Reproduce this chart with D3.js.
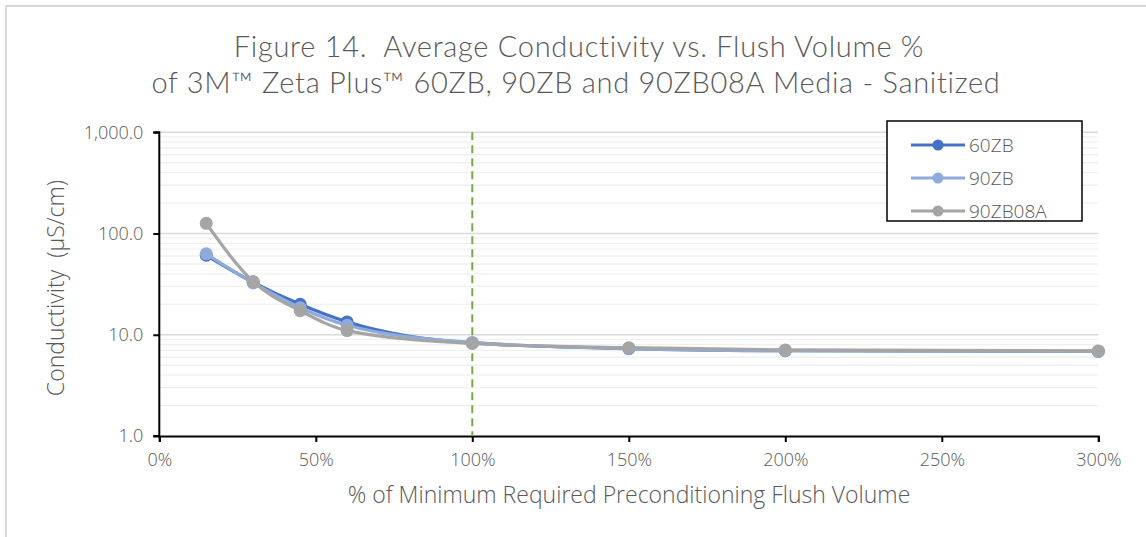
<!DOCTYPE html>
<html><head><meta charset="utf-8">
<script src="https://cdn.jsdelivr.net/npm/d3@7"></script>
<style>body{margin:0;background:#fff;} svg{display:block;} text{font-family:"Open Sans",Lato,sans-serif;font-weight:300;fill:#595959;white-space:pre;}
.ttl{font-family:Lato,"Open Sans",sans-serif;font-weight:300;letter-spacing:0.7px;}</style>
</head><body>
<svg id="c" width="1146" height="537"></svg>
<script>
const xValues = [15, 30, 45, 60, 100, 150, 200, 300];
const series60ZB = [61, 33, 20.0, 13.4, 8.3, 7.3, 6.95, 6.85];
const series90ZB = [63, 32.5, 18.5, 12.4, 8.4, 7.3, 6.95, 6.85];
const series90ZB08A = [126, 33.5, 17.3, 11.0, 8.2, 7.45, 7.08, 6.92];
const seriesNames = ["60ZB", "90ZB", "90ZB08A"];
const seriesColors = ["#4472C4", "#8FAADC", "#A5A5A5"];
const yTicks = [1, 10, 100, 1000];
const xTicks = [0, 50, 100, 150, 200, 250, 300];
const refLine = 100;

const svg = d3.select("#c");
const L = 159.3, R = 1098.3, T = 132.3, B = 436;
const x = d3.scaleLinear().domain([0, 300]).range([L, R]);
const y = d3.scaleLog().domain([1, 1000]).range([B, T]);

svg.append("path").attr("d", "M6,537 L6,6 L1146,6").attr("fill", "none").attr("stroke", "#D9D9D9").attr("stroke-width", 2);

const minor = [];
for (let d = 1; d < 1000; d *= 10) for (let k = 2; k <= 9; k++) minor.push(d * k);
svg.append("g").selectAll("line").data(minor).join("line")
  .attr("x1", L).attr("x2", R).attr("y1", d => y(d)).attr("y2", d => y(d))
  .attr("stroke", "#F0F0F0").attr("stroke-width", 1.3);
svg.append("g").selectAll("line").data(yTicks.slice(1)).join("line")
  .attr("x1", L).attr("x2", R).attr("y1", d => y(d)).attr("y2", d => y(d))
  .attr("stroke", "#D9D9D9").attr("stroke-width", 1.5);

const fmt = d3.format(",.1f");
const yAxis = svg.append("g").attr("transform", `translate(${L},0)`)
  .call(d3.axisLeft(y).tickValues(yTicks).tickFormat(d => fmt(d)).tickSize(6).tickPadding(10));
const xAxis = svg.append("g").attr("transform", `translate(0,${B})`)
  .call(d3.axisBottom(x).tickValues(xTicks).tickFormat(d => d + "%").tickSize(6).tickPadding(11));
[yAxis, xAxis].forEach(g => {
  g.select(".domain").attr("stroke", "#000").attr("stroke-width", 2);
  g.selectAll(".tick line").attr("stroke", "#000").attr("stroke-width", 2);
  g.selectAll(".tick text").style("font-size", "18px").style("font-family", '"Open Sans",Lato,sans-serif').style("font-weight", 300).attr("fill", "#595959");
});
yAxis.select(".domain").attr("d", `M-6,${T}H0V${B}H-6`);

svg.append("line").attr("x1", x(refLine)).attr("x2", x(refLine)).attr("y1", T).attr("y2", B)
  .attr("stroke", "#70AD47").attr("stroke-width", 2).attr("stroke-dasharray", "8,5");

const allSeries = [series60ZB, series90ZB, series90ZB08A];
const line = d3.line().x((d, i) => x(xValues[i])).y(d => y(d)).curve(d3.curveMonotoneX);
allSeries.forEach((s, si) => {
  const g = svg.append("g");
  g.append("path").datum(s).attr("d", line).attr("fill", "none")
    .attr("stroke", seriesColors[si]).attr("stroke-width", 3.2).attr("stroke-linejoin", "round");
  g.selectAll("circle").data(s).join("circle")
    .attr("cx", (d, i) => x(xValues[i])).attr("cy", d => y(d)).attr("r", 6.5)
    .attr("fill", seriesColors[si]);
});

const lg = svg.append("g");
lg.append("rect").attr("x", 887).attr("y", 121).attr("width", 195).attr("height", 100)
  .attr("fill", "#fff").attr("stroke", "#000").attr("stroke-width", 1.5);
seriesNames.forEach((n, i) => {
  const yy = 145 + i * 33;
  lg.append("line").attr("x1", 911).attr("x2", 965).attr("y1", yy).attr("y2", yy)
    .attr("stroke", seriesColors[i]).attr("stroke-width", 3.2);
  lg.append("circle").attr("cx", 938).attr("cy", yy).attr("r", 5.5).attr("fill", seriesColors[i]);
  lg.append("text").attr("x", 969).attr("y", yy).attr("dy", "0.35em").style("font-size", "19px").text(n);
});

svg.append("text").attr("class", "ttl").attr("x", 579).attr("y", 57).attr("text-anchor", "middle").style("font-size", "29px")
  .text("Figure 14.  Average Conductivity vs. Flush Volume %");
svg.append("text").attr("class", "ttl").attr("x", 576).attr("y", 93).attr("text-anchor", "middle").style("font-size", "29px")
  .text("of 3M™ Zeta Plus™ 60ZB, 90ZB and 90ZB08A Media - Sanitized");
svg.append("text").attr("x", 629).attr("y", 503).attr("text-anchor", "middle").style("font-size", "23px")
  .text("% of Minimum Required Preconditioning Flush Volume");
svg.append("text").attr("transform", "translate(64,288) rotate(-90)").attr("text-anchor", "middle").style("font-size", "23px")
  .text("Conductivity  (μS/cm)");
</script>
</body></html>
